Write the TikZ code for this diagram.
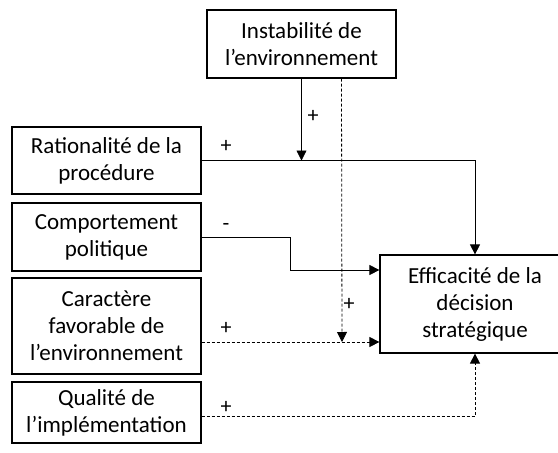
\documentclass[tikz,border=0pt]{standalone}
\usepackage{fontspec}
\setmainfont{Carlito}
\usetikzlibrary{arrows.meta}
\begin{document}
\begin{tikzpicture}[x=1pt,y=-1pt,
      box/.style={draw,line width=1.2pt,align=center,inner sep=0pt,minimum width=189pt,
        font=\fontsize{23}{27}\selectfont},
      link/.style={-{Triangle[length=10pt,width=10pt]},line width=.8pt},
      dash line/.style={dash pattern=on 3pt off 2pt},
      sign/.style={font=\fontsize{22}{27}\selectfont}]
    \useasboundingbox (0,0) rectangle (558,453);
    \clip (0,0) rectangle (558,453);
    \node[box,minimum height=68pt] (inst) at (301.5,44) {Instabilité de\\l’environnement};
    \foreach \name/\y/\h/\txt in {
      rat/160.5/67/{Rationalité de la\\procédure},
      comp/237/68/{Comportement\\politique},
      car/326/96/{Caractère\\favorable de\\l’environnement},
      qual/412.5/61/{Qualité de\\l’implémentation}} {
      \node[box,minimum height=\h pt] (\name) at (106.5,\y) {\txt};
    }
    \node[box,minimum width=190pt,minimum height=98pt] (eff) at (475,304)
      {Efficacité de la\\décision\\stratégique};
    \coordinate (bend) at (290,270);
    \coordinate (meet) at (342,342);
    \draw[link] (rat.east) -| (eff.north);
    \draw[link] (inst.south) -- (inst.south |- rat.east);
    \draw[link] (comp.east) -| (bend) -- (bend -| eff.west);
    \draw[link,dash line] ([xshift=40pt]inst.south) -- (meet);
    \draw[link,dash line] (car.east |- meet) -- (meet -| eff.west);
    \draw[link,dash line] ([yshift=-4pt]qual.east) -| (eff.south);
    \foreach \name/\x/\y/\s in {
      pinst/313/116/+,
      prat/226/146/+,
      mcomp/226/227/-,
      pcar/226/328/+,
      pmeet/349/304/+,
      pqual/226/407/+}
      \node[sign] (\name) at (\x,\y) {\s};
  \end{tikzpicture}
\end{document}
